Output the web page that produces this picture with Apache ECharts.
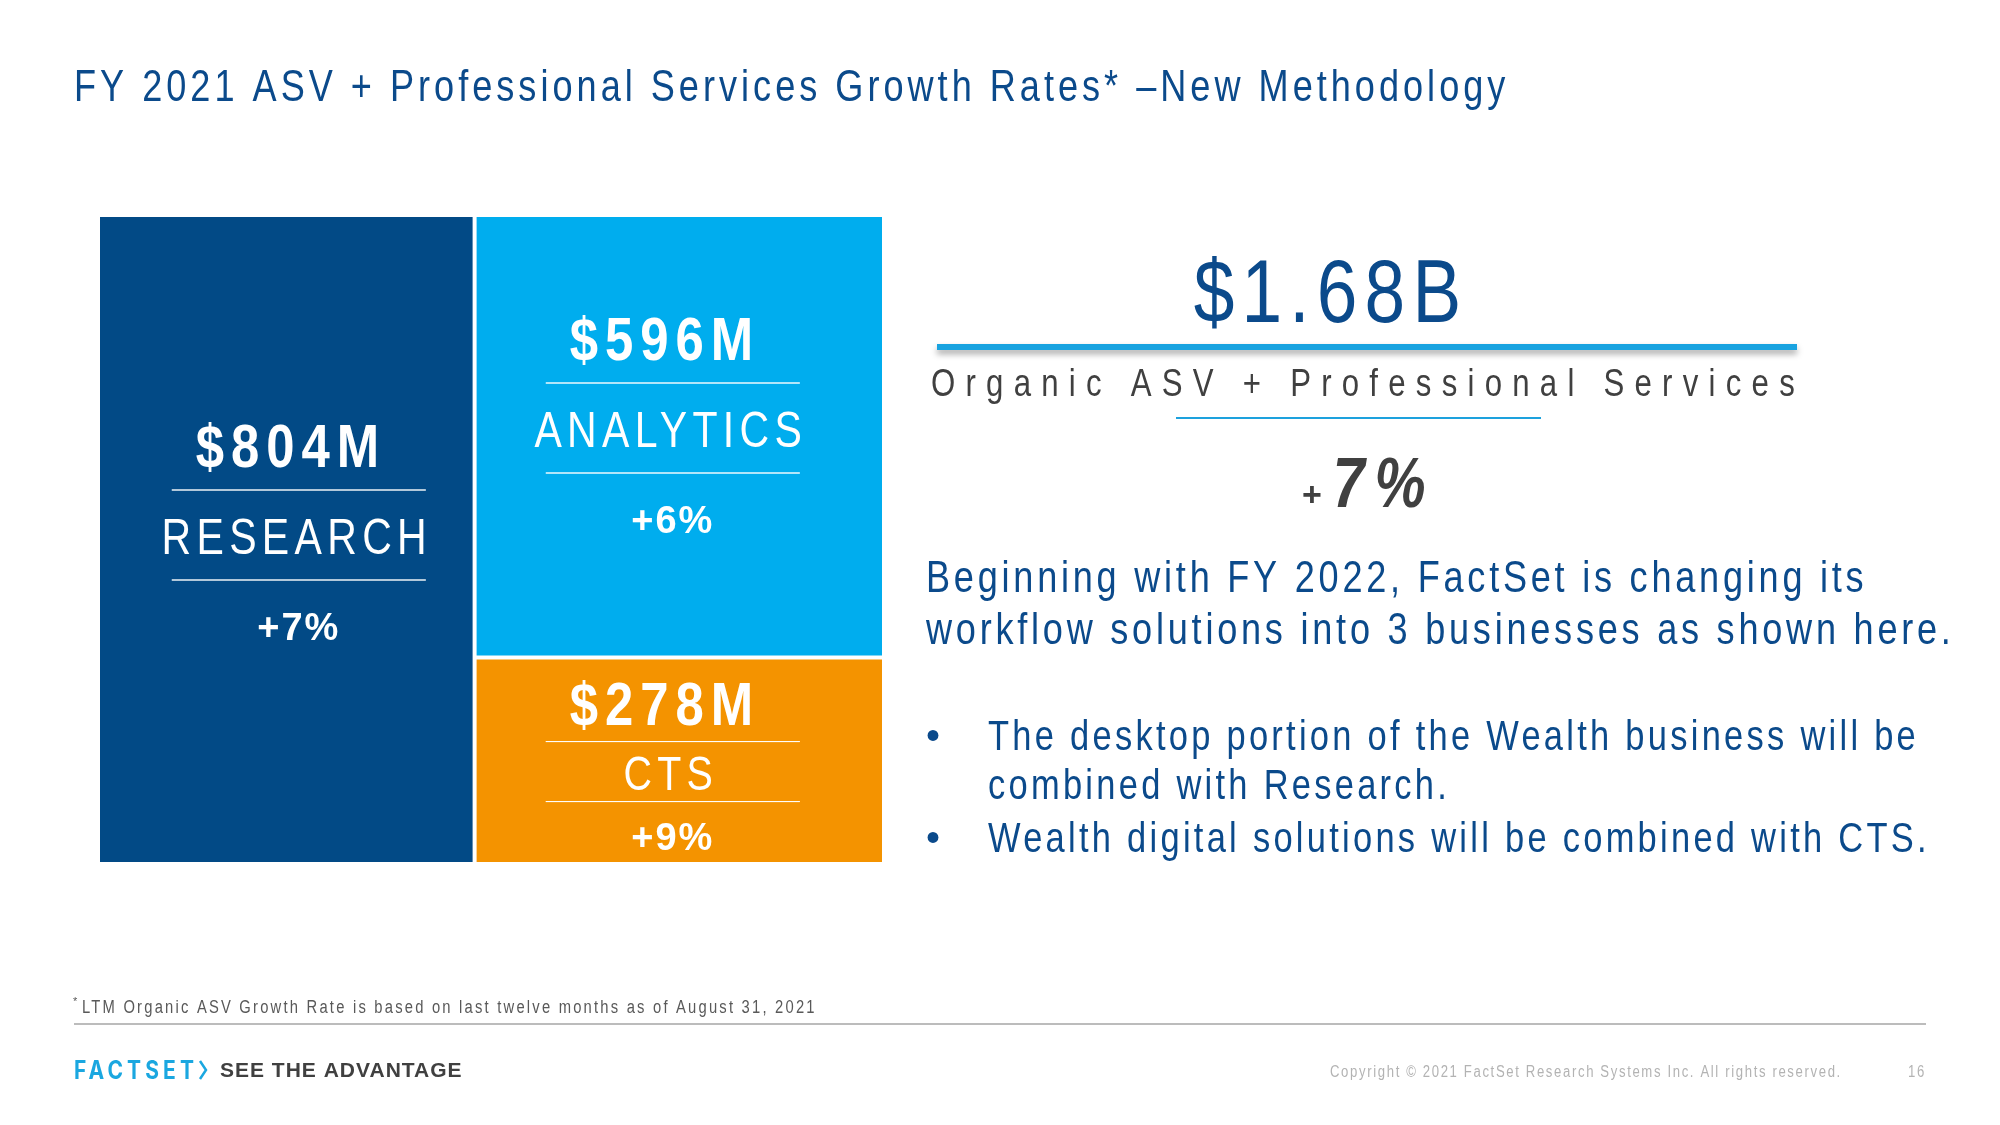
<!DOCTYPE html>
<html>
<head>
<meta charset="utf-8">
<script src="https://cdn.jsdelivr.net/npm/echarts@6/dist/echarts.min.js"></script>
<style>
  html, body { margin: 0; padding: 0; background: #ffffff; }
  #chart { width: 2000px; height: 1125px; }
</style>
</head>
<body>
<div id="chart"></div>
<script>
// ---------------- DATA ----------------
const segments = ['RESEARCH', 'ANALYTICS', 'CTS'];
const asvMillions = [804, 596, 278];
const growthPct = [7, 6, 9];
const totalGrowthPct = 7;

const titleText = 'FY 2021 ASV + Professional Services Growth Rates* \u2013New Methodology';
const totalCaption = 'Organic ASV + Professional Services';
const paragraphLines = [
  'Beginning with FY 2022, FactSet is changing its',
  'workflow solutions into 3 businesses as shown here.'
];
const bulletItems = [
  ['The desktop portion of the Wealth business will be', 'combined with Research.'],
  ['Wealth digital solutions will be combined with CTS.']
];
const footnoteText = 'LTM Organic ASV Growth Rate is based on last twelve months as of August 31, 2021';
const copyrightText = 'Copyright \u00A9 2021 FactSet Research Systems Inc. All rights reserved.';
const pageNumber = '16';

// ------- canvas text helpers: letter spacing (lspN / lspNdM) and horizontal condensing (sxNN) -------
(function () {
  const P = CanvasRenderingContext2D.prototype;
  function wrap(orig) {
    return function (text, x, y, maxW) {
      const f = this.font || '';
      const m = /lsp(\d+)(?:d(\d))?/.exec(f);
      const s = /sx(\d+)/.exec(f);
      const call = (ctx, tx, ty) => (maxW === undefined ? orig.call(ctx, text, tx, ty) : orig.call(ctx, text, tx, ty, maxW));
      if (!m && !s) return call(this, x, y);
      const prev = this.letterSpacing;
      if (m && 'letterSpacing' in this) {
        this.letterSpacing = (parseInt(m[1], 10) + (m[2] ? parseInt(m[2], 10) / 10 : 0)) + 'px';
      }
      let r;
      if (s) {
        const k = parseInt(s[1], 10) / 100;
        this.save();
        this.translate(x, y);
        this.scale(k, 1);
        r = call(this, 0, 0);
        this.restore();
      } else {
        r = call(this, x, y);
      }
      if (m && 'letterSpacing' in this) this.letterSpacing = prev;
      return r;
    };
  }
  P.fillText = wrap(P.fillText);
  P.strokeText = wrap(P.strokeText);
})();

// narrow (Arial Narrow-like) family with optional letter spacing
function fam(ls, narrow) {
  return "'Liberation Sans', Arial" + (ls ? ', lsp' + ls : '') + (narrow === false ? '' : ', sx82') + ', sans-serif';
}
function font(weight, size, ls, style, narrow) {
  return (style || 'normal') + ' ' + weight + ' ' + size + 'px ' + fam(ls, narrow);
}

const segColors = ['#024A86', '#00ADEE', '#F49300'];
const BLUE = '#0B4A8B';
const GRAY = '#404040';

function richFor(i) {
  const compact = i === 2;
  return {
    v: { color: '#fff', fontSize: 62, fontWeight: 'bold', fontFamily: fam('8d5'), lineHeight: compact ? 60 : 80, padding: compact ? [0, 16, 8, 0] : [0, 16, 0, 0] },
    n: { color: '#fff', fontSize: compact ? 48 : 50, fontWeight: 'normal', fontFamily: fam('6d5'), lineHeight: compact ? 42 : 80, padding: compact ? [0, 4, 8, 0] : [0, 4, 0, 0] },
    g: { color: '#fff', fontSize: 38, fontWeight: 'bold', fontFamily: fam('2', false), lineHeight: compact ? 36 : 80, padding: compact ? [0, 0, 5, 0] : 0 },
    hr: { width: 254, height: 0, lineHeight: compact ? 18 : 10, verticalAlign: 'top', borderColor: 'rgba(255,255,255,0.9)', borderWidth: 1 },
    hr2: { width: 254, height: 0, lineHeight: compact ? 22 : 10, verticalAlign: 'top', borderColor: 'rgba(255,255,255,0.9)', borderWidth: 1 }
  };
}
const labelPadding = [[193, 0, 0, 25], [86, 13, 0, 0], [22, 13, 0, 0]];

const treeData = segments.map((name, i) => ({
  name: name,
  value: asvMillions[i],
  itemStyle: { color: segColors[i] },
  label: { rich: richFor(i), padding: labelPadding[i] }
}));

const total = asvMillions.reduce((a, b) => a + b, 0);
const totalLabel = '$' + (total / 1000).toFixed(2) + 'B';

const elements = [];
// Title
elements.push({ type: 'text', x: 74, y: 89, style: { text: titleText, font: font('normal', 44, '4d9'), fill: BLUE, textAlign: 'left', textVerticalAlign: 'middle' } });
// Total
elements.push({ type: 'text', x: 1331, y: 297, style: { text: totalLabel, font: font('normal', 89, '8d8'), fill: BLUE, textAlign: 'center', textVerticalAlign: 'middle' } });
elements.push({ type: 'line', shape: { x1: 937, y1: 347, x2: 1797, y2: 347 }, style: { stroke: '#19A3E0', lineWidth: 6, shadowBlur: 6, shadowOffsetY: 4, shadowColor: 'rgba(0,0,0,0.35)' } });
elements.push({ type: 'text', x: 1368, y: 386, style: { text: totalCaption, font: font('normal', 38, '12d5'), fill: GRAY, textAlign: 'center', textVerticalAlign: 'middle' } });
elements.push({ type: 'line', shape: { x1: 1176, y1: 418, x2: 1541, y2: 418 }, style: { stroke: '#1DA1DD', lineWidth: 2 } });
elements.push({ type: 'text', x: 1302, y: 488, style: {
  text: '{p|+}{b|' + totalGrowthPct + '%}', textAlign: 'left', textVerticalAlign: 'middle', fill: GRAY,
  rich: {
    p: { fontSize: 34, fontWeight: 'bold', fontFamily: fam(null, false), fill: GRAY, padding: [18, 11, 0, 0] },
    b: { fontSize: 70, fontWeight: 'bold', fontStyle: 'italic', fontFamily: fam('12'), fill: GRAY }
  }
} });
// Paragraph
paragraphLines.forEach((t, k) => {
  elements.push({ type: 'text', x: 926, y: 580 + k * 52, style: { text: t, font: font('normal', 44, '4d6'), fill: BLUE, textAlign: 'left', textVerticalAlign: 'middle' } });
});
// Bullets
const bulletY = [[738, 787], [840]];
bulletItems.forEach((lines, b) => {
  elements.push({ type: 'text', x: 926, y: bulletY[b][0], style: { text: '\u2022', font: font('normal', 40, null, null, false), fill: BLUE, textAlign: 'left', textVerticalAlign: 'middle' } });
  lines.forEach((t, k) => {
    elements.push({ type: 'text', x: 988, y: bulletY[b][k], style: { text: t, font: font('normal', 42, '4'), fill: BLUE, textAlign: 'left', textVerticalAlign: 'middle' } });
  });
});
// Footnote
elements.push({ type: 'text', x: 73, y: 1002, style: { text: '*', font: font('normal', 11, null, null, false), fill: '#595959', textAlign: 'left', textVerticalAlign: 'middle' } });
elements.push({ type: 'text', x: 82, y: 1008, style: { text: footnoteText, font: font('normal', 18, '2d7'), fill: '#595959', textAlign: 'left', textVerticalAlign: 'middle' } });
elements.push({ type: 'line', shape: { x1: 74, y1: 1024, x2: 1926, y2: 1024 }, style: { stroke: '#A6A6A6', lineWidth: 1.5 } });
// Logo
elements.push({ type: 'text', x: 74, y: 1071, style: { text: 'FACTSET', font: "normal bold 25px Inter, 'Liberation Sans', sx84, sans-serif", fill: '#1AA7E0', textAlign: 'left', textVerticalAlign: 'middle' } });
elements.push({ type: 'polyline', shape: { points: [[200, 1061], [206, 1070], [200, 1079]] }, style: { stroke: '#1AA7E0', lineWidth: 2.5, fill: null } });
elements.push({ type: 'text', x: 220, y: 1071, style: { text: 'SEE THE ADVANTAGE', font: "normal bold 21px 'Liberation Sans', lsp1, sans-serif", fill: '#404040', textAlign: 'left', textVerticalAlign: 'middle' } });
elements.push({ type: 'text', x: 1330, y: 1073, style: { text: copyrightText, font: font('normal', 16, '2'), fill: '#B3B3B3', textAlign: 'left', textVerticalAlign: 'middle' } });
elements.push({ type: 'text', x: 1908, y: 1073, style: { text: pageNumber, font: font('normal', 16, '2'), fill: '#B3B3B3', textAlign: 'left', textVerticalAlign: 'middle' } });

const chart = echarts.init(document.getElementById('chart'), null, { renderer: 'canvas' });
chart.setOption({
  backgroundColor: '#ffffff',
  animation: false,
  graphic: { elements: elements },
  series: [{
    type: 'treemap',
    left: 100, top: 217, width: 782, height: 645,
    roam: false,
    nodeClick: false,
    breadcrumb: { show: false },
    squareRatio: 1,
    itemStyle: { borderWidth: 0, gapWidth: 4, borderColor: '#ffffff' },
    levels: [
      { itemStyle: { borderWidth: 0, gapWidth: 4, borderColor: '#ffffff' } },
      { itemStyle: { borderWidth: 0, gapWidth: 0 } }
    ],
    label: {
      show: true,
      position: 'inside',
      overflow: 'none',
      formatter: function (p) {
        const i = segments.indexOf(p.name);
        return '{v|$' + asvMillions[i] + 'M}\n{hr|}\n{n|' + segments[i] + '}\n{hr2|}\n{g|+' + growthPct[i] + '%}';
      }
    },
    upperLabel: { show: false },
    emphasis: { disabled: true },
    data: treeData
  }]
});
</script>
</body>
</html>
